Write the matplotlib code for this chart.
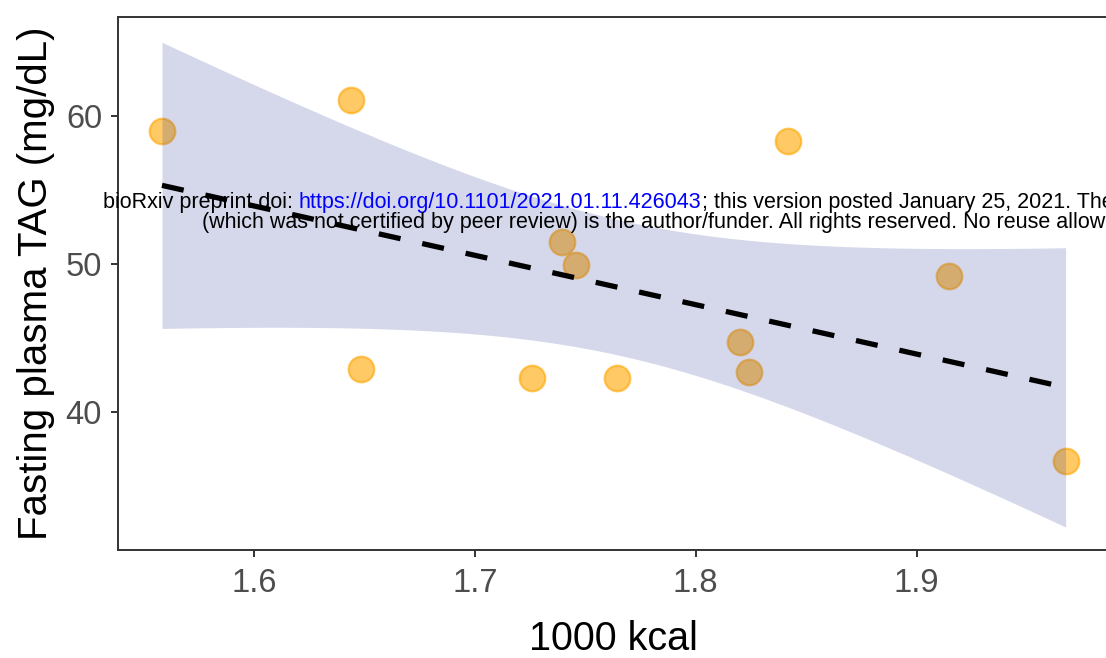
import numpy as np
import matplotlib
matplotlib.use("Agg")
import matplotlib.pyplot as plt

# Data
kcal_1000 = [1.5584, 1.6439, 1.6484, 1.7258, 1.7394, 1.7457, 1.7643, 1.8199, 1.8240, 1.8416, 1.9145, 1.9674]
tag_mgdl = [58.99, 61.08, 42.90, 42.30, 51.49, 49.93, 42.30, 44.73, 42.70, 58.31, 49.19, 36.69]
x_ticks = [1.6, 1.7, 1.8, 1.9]
y_ticks = [40, 50, 60]
x_label = "1000 kcal"
y_label = "Fasting plasma TAG (mg/dL)"
wm_line1_a = "bioRxiv preprint doi: "
wm_line1_url = "https://doi.org/10.1101/2021.01.11.426043"
wm_line1_b = "; this version posted January 25, 2021. The copyright holder for this preprint"
wm_line2 = "(which was not certified by peer review) is the author/funder. All rights reserved. No reuse allowed without permission."

plt.rcParams['font.family'] = ['Liberation Sans', 'DejaVu Sans']
plt.rcParams['lines.scale_dashes'] = False

W, H = 1106, 658
fig = plt.figure(figsize=(W / 100, H / 100), dpi=100)
ax = fig.add_axes([118 / W, (H - 550) / H, (1108 - 118) / W, (550 - 17) / H])

x = np.array(kcal_1000)
y = np.array(tag_mgdl)
n = len(x)
slope, intercept = np.polyfit(x, y, 1)
xs = np.linspace(x.min(), x.max(), 200)
fit = intercept + slope * xs
resid = y - (intercept + slope * x)
s = np.sqrt(np.sum(resid ** 2) / (n - 2))
sxx = np.sum((x - x.mean()) ** 2)
t_crit = 2.228  # t(0.975, df=10)
se = s * np.sqrt(1 / n + (xs - x.mean()) ** 2 / sxx)

ax.scatter(x, y, s=340, facecolor=(1.0, 0.647, 0.0, 0.6), edgecolor=(1.0, 0.647, 0.0, 0.6),
           linewidths=1.6, zorder=2)
ax.fill_between(xs, fit - t_crit * se, fit + t_crit * se, color=(45/255, 60/255, 155/255),
                alpha=0.2, linewidth=0, zorder=3)
ax.plot(xs, fit, color='black', linewidth=3.8, dashes=(16, 16), dash_capstyle='butt', zorder=4)

ax.set_xlim(1.5385, 1.9866)
ax.set_ylim(30.68, 66.69)
ax.set_xticks(x_ticks)
ax.set_yticks(y_ticks)
ax.set_xticklabels([f"{v:.1f}" for v in x_ticks])
ax.set_yticklabels([str(v) for v in y_ticks])

for side in ['left', 'bottom', 'top', 'right']:
    ax.spines[side].set_color('#333333')
    ax.spines[side].set_linewidth(1.4)
ax.tick_params(axis='both', length=5, width=1.4, color='#333333', labelsize=23.5,
               labelcolor='#4D4D4D')
ax.tick_params(axis='x', pad=8)
ax.tick_params(axis='y', pad=6.5)
ax.set_xlabel(x_label, fontsize=28.5, color='black', labelpad=15)
ax.set_ylabel(y_label, fontsize=29, color='black', labelpad=8)

# Watermark overlay
fig.canvas.draw()
r = fig.canvas.get_renderer()
fs = 15.5
y1 = 1 - 208 / H
y2 = 1 - 228 / H
t1 = fig.text(103 / W, y1, wm_line1_a, fontsize=fs, color='black', va='baseline', ha='left', zorder=10)
bb = t1.get_window_extent(r)
t2 = fig.text(bb.x1 / W, y1, wm_line1_url, fontsize=fs, color='blue', va='baseline', ha='left', zorder=10)
bb2 = t2.get_window_extent(r)
fig.text(bb2.x1 / W, y1, wm_line1_b, fontsize=fs, color='black', va='baseline', ha='left', zorder=10)
fig.text(202 / W, y2, wm_line2, fontsize=fs, color='black', va='baseline', ha='left', zorder=10)

fig.savefig("out.png", dpi=100)
